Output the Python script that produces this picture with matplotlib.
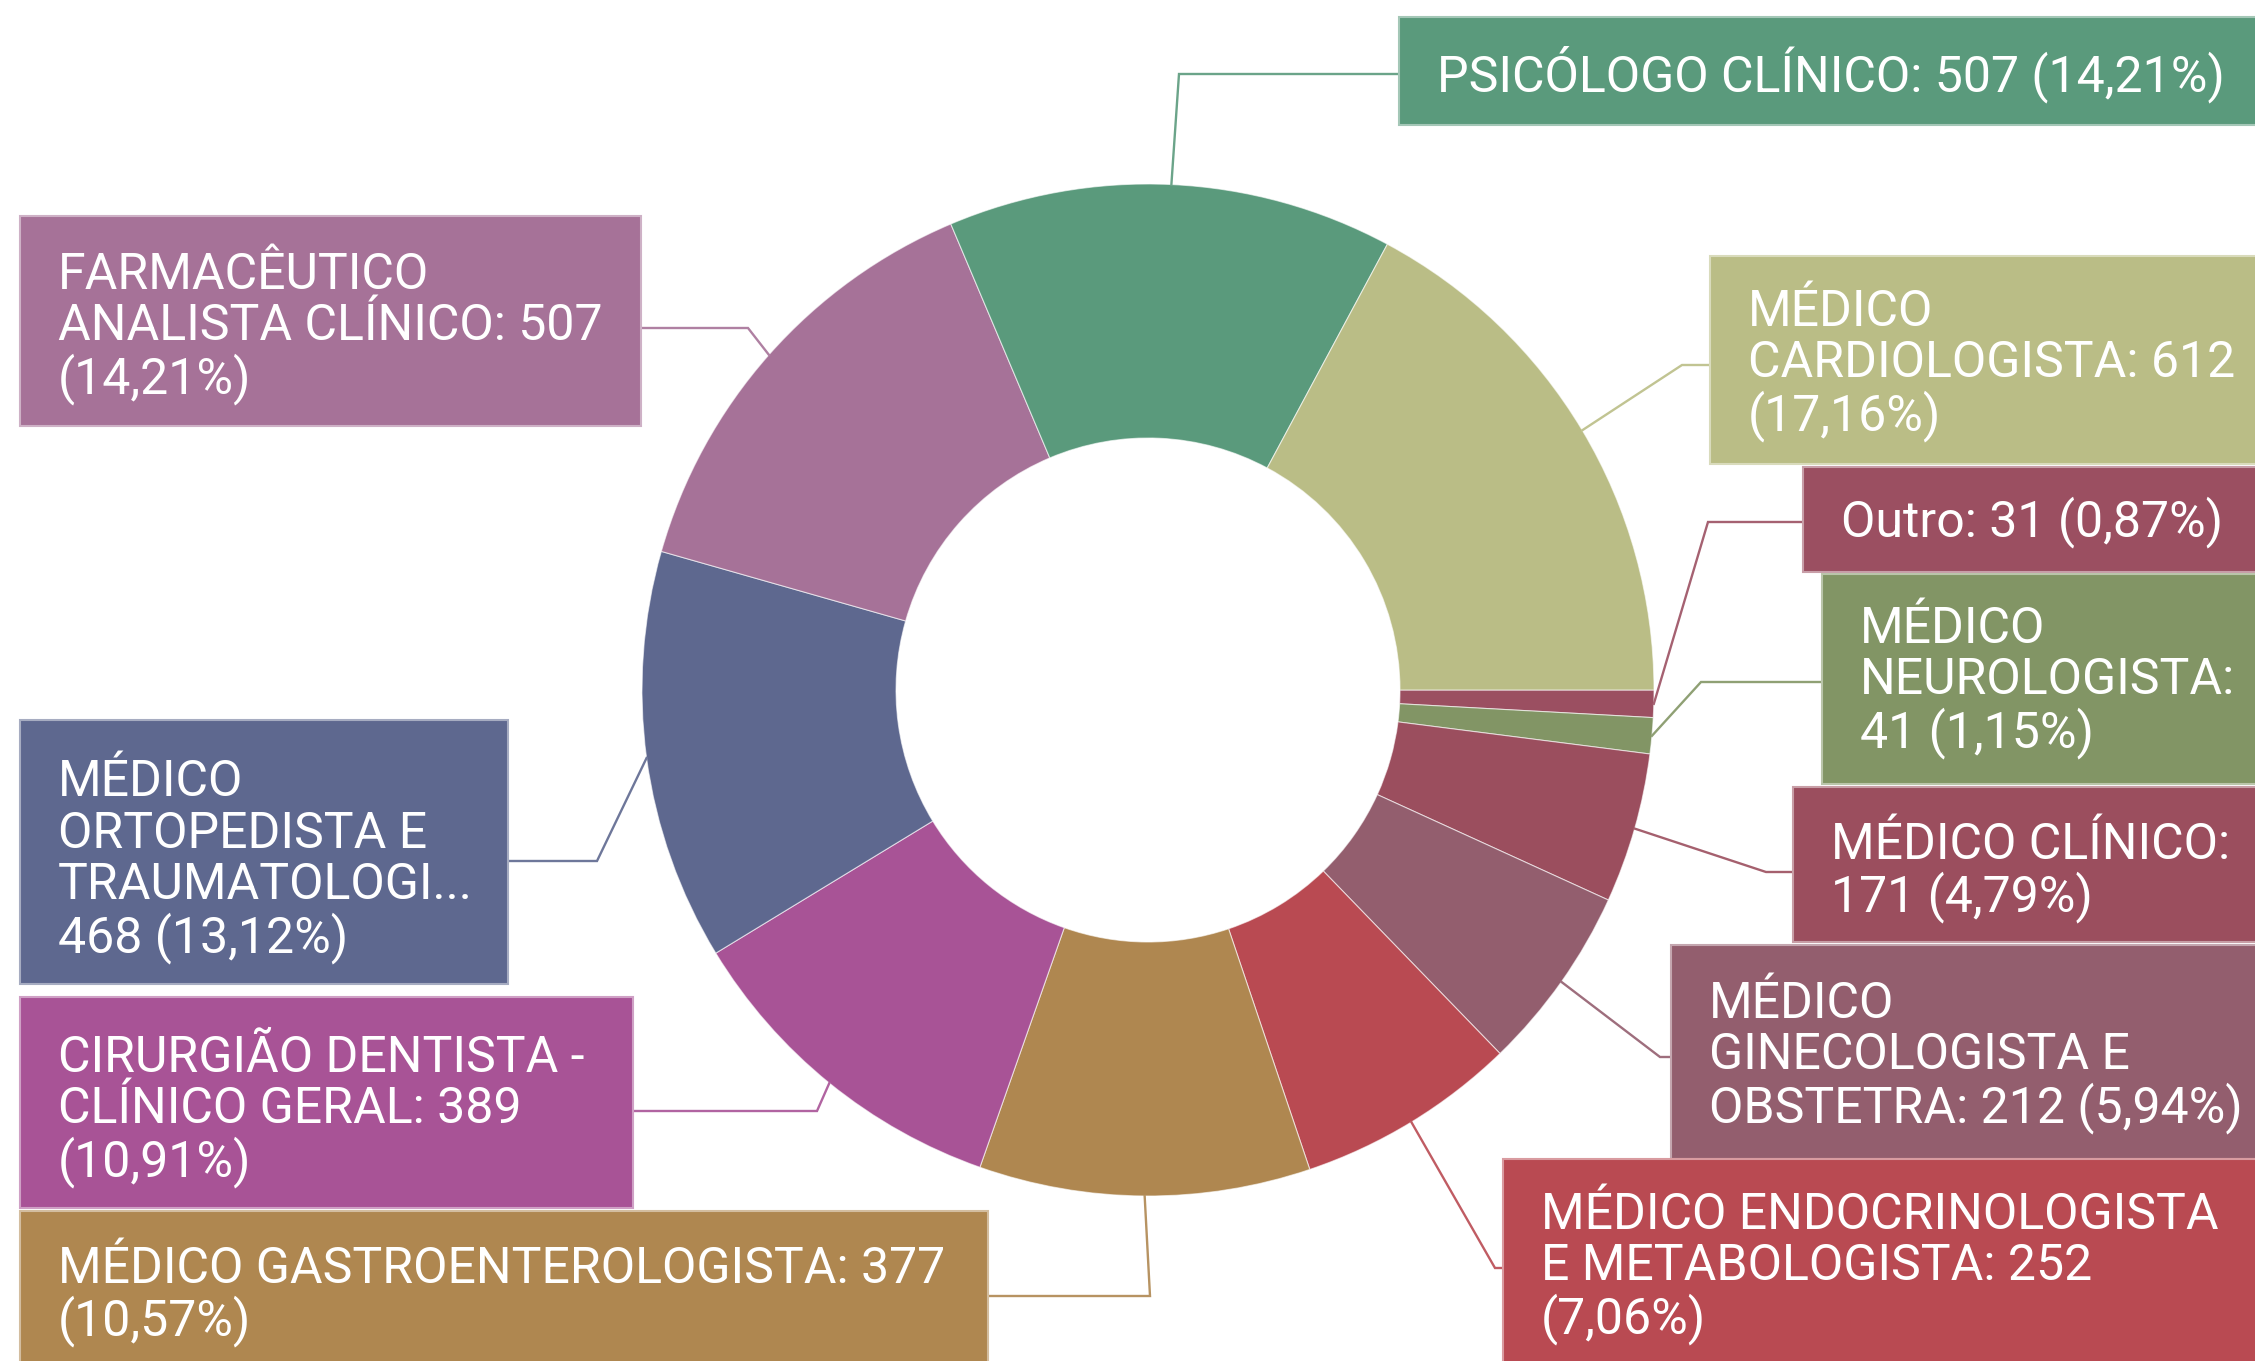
import matplotlib.pyplot as plt
from matplotlib.patches import Rectangle
import numpy as np

W, H = 2255, 1361

# slices go clockwise from 3 o'clock, smallest first
categories = ["Outro", "MÉDICO NEUROLOGISTA", "MÉDICO CLÍNICO",
              "MÉDICO GINECOLOGISTA E OBSTETRA",
              "MÉDICO ENDOCRINOLOGISTA E METABOLOGISTA",
              "MÉDICO GASTROENTEROLOGISTA",
              "CIRURGIÃO DENTISTA - CLÍNICO GERAL",
              "MÉDICO ORTOPEDISTA E TRAUMATOLOGISTA",
              "FARMACÊUTICO ANALISTA CLÍNICO",
              "PSICÓLOGO CLÍNICO",
              "MÉDICO CARDIOLOGISTA"]
values = [31, 41, 171, 212, 252, 377, 389, 468, 507, 507, 612]
colors = ["#9B4F61", "#829565", "#9B4E5E", "#935E6E", "#B94A52", "#AF8750",
          "#A85396", "#5E688F", "#A67298", "#5A9A7C", "#BABD86"]

# label text as wrapped in the chart, {v} = value, {p} = percent
label_fmt = [
    "Outro: {v} ({p})",
    "MÉDICO\nNEUROLOGISTA:\n{v} ({p})",
    "MÉDICO CLÍNICO:\n{v} ({p})",
    "MÉDICO\nGINECOLOGISTA E\nOBSTETRA: {v} ({p})",
    "MÉDICO ENDOCRINOLOGISTA\nE METABOLOGISTA: {v}\n({p})",
    "MÉDICO GASTROENTEROLOGISTA: {v}\n({p})",
    "CIRURGIÃO DENTISTA -\nCLÍNICO GERAL: {v}\n({p})",
    "MÉDICO\nORTOPEDISTA E\nTRAUMATOLOGI...\n{v} ({p})",
    "FARMACÊUTICO\nANALISTA CLÍNICO: {v}\n({p})",
    "PSICÓLOGO CLÍNICO: {v} ({p})",
    "MÉDICO\nCARDIOLOGISTA: {v}\n({p})",
]

# layout in pixels from top-left: box (left, top, right, bottom), text y, elbow x
boxes = [(1803, 467, 2260, 572), (1822, 574, 2260, 784), (1793, 787, 2260, 942),
         (1671, 945, 2260, 1159), (1503, 1159, 2260, 1365), (20, 1211, 988, 1365),
         (20, 997, 633, 1208), (20, 720, 508, 984), (20, 216, 641, 426),
         (1399, 17, 2260, 125), (1710, 256, 2260, 464)]
text_y = [522, 682, 872, 1057, 1268, 1296, 1111, 861, 328, 74, 365]
elbow_x = [1708, 1701, 1766, 1660, 1495, 1150, 817, 597, 748, 1179, 1682]

cx, cy = 1148, 690
R, r = 506, 252


def lighten(c, f):
    rgb = np.array(plt.matplotlib.colors.to_rgb(c))
    return tuple(rgb + (1 - rgb) * f)


fig = plt.figure(figsize=(W / 100, H / 100), dpi=100)
ax = fig.add_axes([0, 0, 1, 1])

total = sum(values)
wedges, _ = ax.pie(values, colors=colors, startangle=0, counterclock=False,
                   radius=R, center=(cx, H - cy),
                   wedgeprops=dict(width=R - r, edgecolor=(1, 1, 1, 0.6), linewidth=0.8))

for i, w in enumerate(wedges):
    mid = np.radians((w.theta1 + w.theta2) / 2)
    px, py = cx + R * np.cos(mid), (H - cy) + R * np.sin(mid)
    left, top, right, bottom = boxes[i]
    right_side = left > cx
    edge = left if right_side else right
    ay = H - text_y[i]
    ax.plot([px, elbow_x[i], edge], [py, ay, ay], color=lighten(colors[i], 0.1),
            lw=1.7, zorder=1, solid_joinstyle="miter")
    ax.add_patch(Rectangle((left, H - bottom), right - left, bottom - top,
                           facecolor=colors[i], edgecolor=lighten(colors[i], 0.45),
                           lw=1.5, zorder=2))
    pct = f"{values[i] / total * 100:.2f}%".replace(".", ",")
    ax.text(left + 38, ay, label_fmt[i].format(v=values[i], p=pct),
            ha="left", va="center", color="white", fontsize=36,
            family="Roboto", linespacing=1.08, zorder=3)

ax.set_xlim(0, W)
ax.set_ylim(0, H)
ax.axis("off")

fig.savefig("out.png", dpi=100, facecolor="white")
